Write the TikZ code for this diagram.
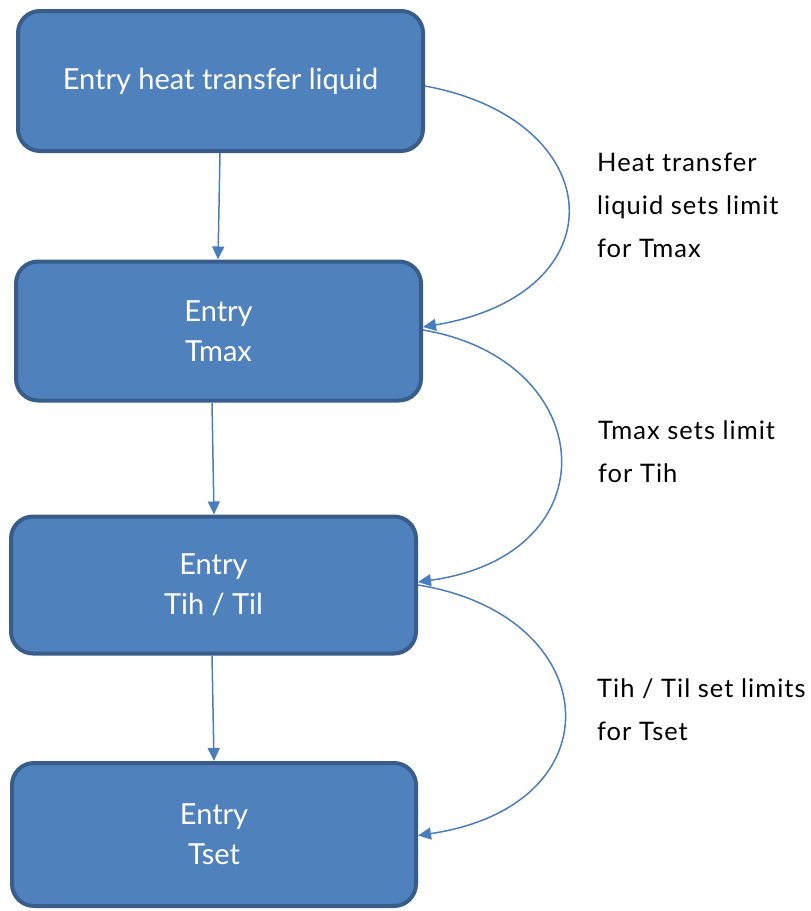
\documentclass[tikz,border=0pt]{standalone}
\usepackage{fontspec}
\setmainfont{Lato}
\newfontfamily\labelfont[LetterSpace=4]{Lato}
\usetikzlibrary{arrows.meta}
\definecolor{boxfill}{HTML}{4F81BD}
\definecolor{boxline}{HTML}{385D8A}
\definecolor{arrowcol}{HTML}{4A7EBB}
\tikzset{
  entrybox/.style={draw=boxline, line width=4pt, fill=boxfill, rounded corners=22pt,
    text=white, align=center, inner sep=0pt,
    font=\fontsize{29}{40}\selectfont},
  flowarrow/.style={draw=arrowcol, line width=1.5pt, -{Triangle[length=13pt,width=12pt]}},
  limitlabel/.style={anchor=west, align=left, inner sep=0pt, text=black,
    font=\labelfont\fontsize{25.5}{43}\selectfont}
}
\begin{document}
\begin{tikzpicture}[x=1pt,y=-1pt]
\useasboundingbox (0,0) rectangle (811,911);
\node[entrybox, minimum width=405pt, minimum height=140pt] (b1) at (220.5,81) {Entry heat transfer liquid};
\node[entrybox, minimum width=405pt, minimum height=139pt] (b2) at (218.5,331) {Entry\\Tmax};
\node[entrybox, minimum width=405pt, minimum height=137pt] (b3) at (213.5,585) {Entry\\Tih / Til};
\node[entrybox, minimum width=404pt, minimum height=143pt] (b4) at (214,834.5) {Entry\\Tset};

\node[limitlabel] (l1) at (597,205) {Heat transfer\\liquid sets limit\\for Tmax};
\node[limitlabel] (l2) at (598,452) {Tmax sets limit\\for Tih};
\node[limitlabel] (l3) at (597,710) {Tih / Til set limits\\for Tset};

\draw[flowarrow] ([xshift=-0.5pt]b1.south) -- ([xshift=-0.5pt]b2.north);
\draw[flowarrow] ([xshift=-6.5pt]b2.south) -- ([xshift=0.5pt]b3.north);
\draw[flowarrow] ([xshift=-1.5pt]b3.south) -- ([xshift=0pt]b4.north);

\draw[flowarrow] ([yshift=-5pt]b1.east) .. controls +(185,34) and +(198,-33) .. ([yshift=4pt]b2.east);
\draw[flowarrow] ([yshift=1pt]b2.east) .. controls +(177,30) and +(195,-27) .. ([yshift=3pt]b3.east);
\draw[flowarrow] ([yshift=0pt]b3.east) .. controls +(187,30) and +(202,-30) .. ([yshift=-1pt]b4.east);
\end{tikzpicture}
\end{document}
